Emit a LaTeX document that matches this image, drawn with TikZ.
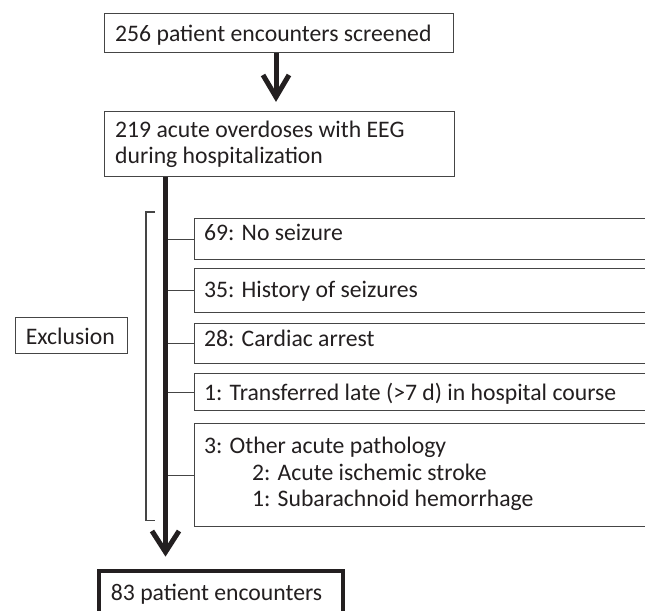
\documentclass[tikz,border=0pt]{standalone}
\usepackage{fontspec}
\setmainfont{Carlito}
\usetikzlibrary{calc}
\definecolor{boxgray}{HTML}{454545}
\definecolor{linecol}{HTML}{231F20}
\definecolor{txtcol}{HTML}{231F20}
\begin{document}
\begin{tikzpicture}[x=1bp,y=-1bp,
  rbox/.style={draw=boxgray, line width=1.3bp, inner sep=0pt, anchor=north west},
  txt/.style={anchor=base west, inner sep=0pt, text=txtcol, font=\fontsize{23.7bp}{26.5bp}\selectfont},
  thickline/.style={draw=linecol, line width=5bp},
  thinline/.style={draw=boxgray, line width=1.3bp}]
\fill[white] (0,0) rectangle (645,611);
\useasboundingbox (0,0) rectangle (645,611);
\clip (0,0) rectangle (645,611);
% top boxes
\node[rbox, minimum width=349bp, minimum height=39bp] (b1) at (104,13) {};
\node[txt] (t1) at (115,41.3) {256 patient encounters screened};
\node[rbox, minimum width=350bp, minimum height=65bp] (b2) at (104,111) {};
\node[txt] (t2a) at (115,137.3) {219 acute overdoses with EEG};
\node[txt] (t2b) at (115,164) {during hospitalization};
% exclusion label
\node[rbox, minimum width=112bp, minimum height=36bp] (ex) at (15,317) {};
\node[txt] (tex) at (25.7,344) {Exclusion};
% exclusion boxes
\node[rbox, minimum width=480bp, minimum height=41bp] (e1) at (194,218) {};
\node[txt] (te1) at (204,240) {69: No seizure};
\node[rbox, minimum width=480bp, minimum height=44bp] (e2) at (194,268) {};
\node[txt] (te2) at (204,297) {35: History of seizures};
\node[rbox, minimum width=480bp, minimum height=40bp] (e3) at (194,323) {};
\node[txt] (te3) at (204,346) {28: Cardiac arrest};
\node[rbox, minimum width=480bp, minimum height=37bp] (e4) at (194,373) {};
\node[txt] (te4) at (204,400) {1: Transferred late (>7 d) in hospital course};
\node[rbox, minimum width=480bp, minimum height=103bp] (e5) at (194,423) {};
\node[txt] (te5a) at (204,453) {3: Other acute pathology};
\node[txt] (te5b) at (252,480) {2: Acute ischemic stroke};
\node[txt] (te5c) at (252,506) {1: Subarachnoid hemorrhage};
% bottom box
\node[draw=linecol, line width=3.5bp, inner sep=0pt, anchor=north west, minimum width=244bp, minimum height=60bp] (b3) at (97,569) {};
\node[txt] (t3) at (110.7,600) {83 patient encounters};
% arrow 1
\coordinate (tip1) at ($(b2.north west)+(172,-14)$);
\draw[thickline] (b1.south -| tip1) -- (tip1);
\draw[thickline, line join=miter] ($(tip1)+(-13,-22)$) -- (tip1) -- ($(tip1)+(13,-22)$);
% main line
\coordinate (tip2) at ($(b3.north west)+(68.5,-17)$);
\foreach \e in {e1,e2,e3,e4,e5} {\draw[thinline] (\e.west -| tip2) -- (\e.west);}
\draw[thickline] (b2.south -| tip2) -- (tip2);
\draw[thickline, line join=miter] ($(tip2)+(-13.5,-21)$) -- (tip2) -- ($(tip2)+(13.5,-21)$);
% bracket
\coordinate (brT) at ($(e1.north west)+(-39,-6)$);
\coordinate (brB) at ($(e5.south west)+(-39,-7)$);
\draw[thinline] (brT) -- ++(-9,0) |- (brB);
\end{tikzpicture}
\end{document}
